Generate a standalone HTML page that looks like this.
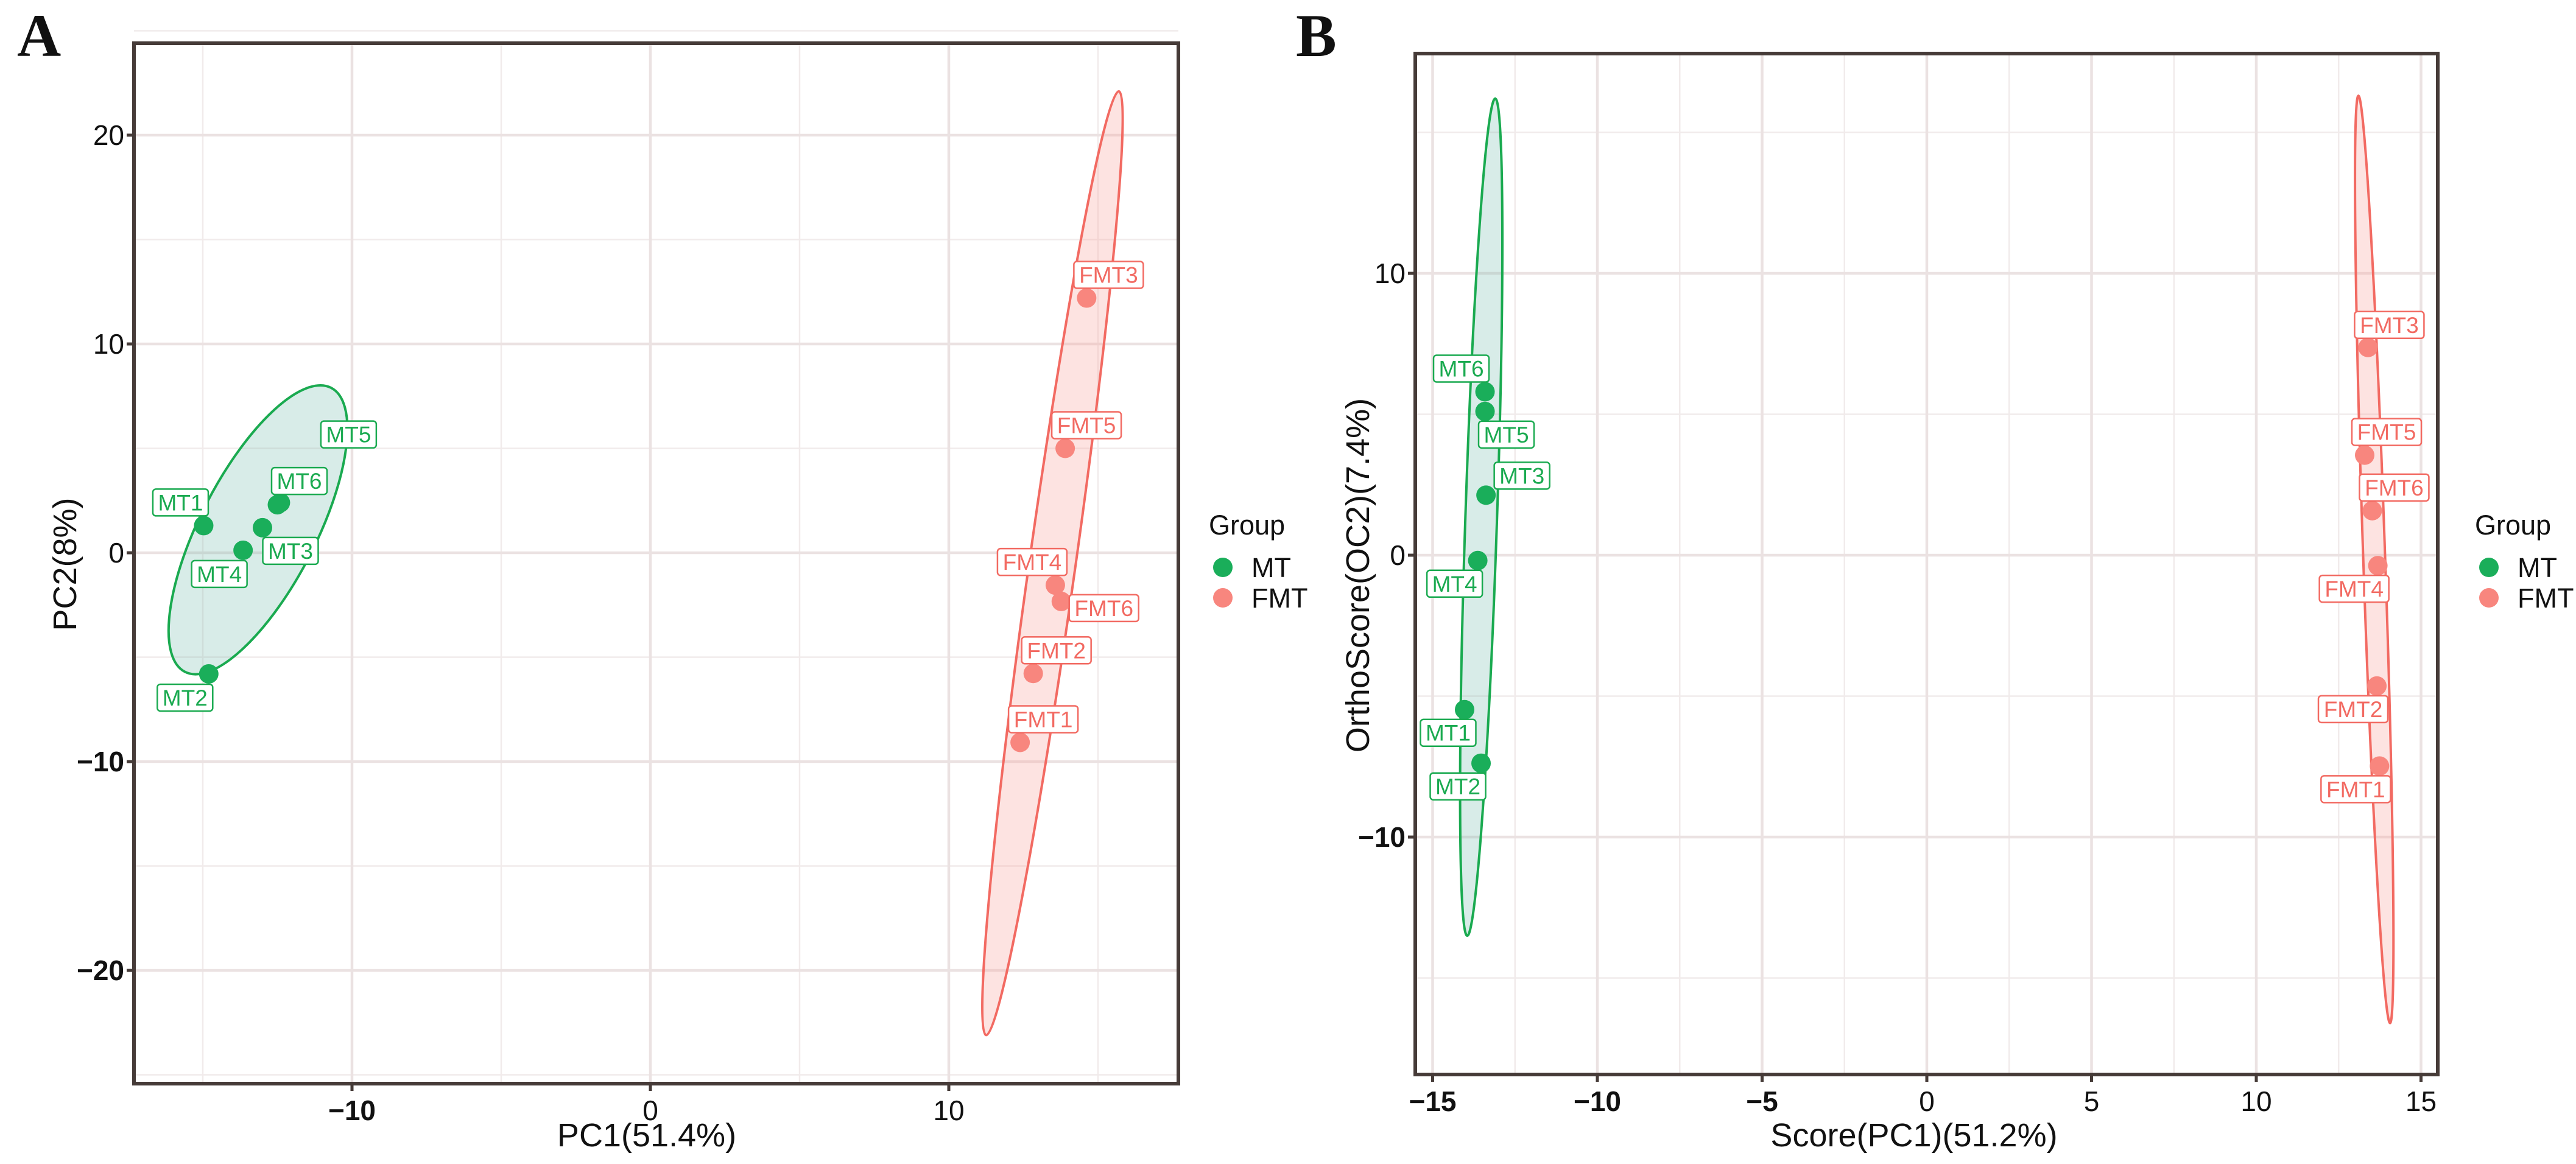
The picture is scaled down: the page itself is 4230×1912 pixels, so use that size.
<!DOCTYPE html>
<html><head><meta charset="utf-8"><style>
html,body{margin:0;padding:0;background:#fff;}
svg{display:block;font-family:"Liberation Sans",sans-serif;}
</style></head><body>
<svg id="fig" width="4230" height="1912" viewBox="0 0 4230 1912"></svg>
<script>
// ---- Panel A data (PCA) ----
const aLabels = ["MT1","MT2","MT3","MT4","MT5","MT6","FMT1","FMT2","FMT3","FMT4","FMT5","FMT6"];
const aGroups = ["MT","MT","MT","MT","MT","MT","FMT","FMT","FMT","FMT","FMT","FMT"];
const aPC1 = [-14.97,-14.8,-13.0,-13.65,-12.4,-12.5,12.39,12.83,14.62,13.57,13.9,13.77];
const aPC2 = [1.3,-5.8,1.2,0.12,2.4,2.3,-9.08,-5.78,12.2,-1.55,5.0,-2.33];
const aXTicks = [-10,0,10];
const aYTicks = [20,10,0,-10,-20];
// ---- Panel B data (OPLS-DA) ----
const bLabels = ["MT1","MT2","MT3","MT4","MT5","MT6","FMT1","FMT2","FMT3","FMT4","FMT5","FMT6"];
const bGroups = ["MT","MT","MT","MT","MT","MT","FMT","FMT","FMT","FMT","FMT","FMT"];
const bScore = [-14.03,-13.53,-13.38,-13.63,-13.41,-13.41,13.74,13.66,13.39,13.69,13.29,13.52];
const bOrtho = [-5.48,-7.38,2.13,-0.19,5.1,5.8,-7.48,-4.64,7.37,-0.37,3.55,1.58];
const bXTicks = [-15,-10,-5,0,5,10,15];
const bYTicks = [10,0,-10];
// ellipse geometry in data units: [x1,y1,x2,y2,minorHalfPx] major-axis tips
const aEllipseMT = [-10.7,7.9,-15.6,-5.7,95];
const aEllipseFMT = [15.7,22.1,11.25,-23.1,38];
const bEllipseMT = [-13.1,16.2,-13.95,-13.5,26];
const bEllipseFMT = [13.1,16.3,14.06,-16.6,18];

// label offsets (px) - layout, not data
const aOff = [[-38,-38],[-39,39],[46,38],[-39,39],[112,-112],[36,-39],[38,-38],[38,-38],[36,-38],[-38,-38],[35,-38],[70,11]];
const bOff = [[-27,38],[-38,38],[59,-32],[-38,38],[35,38],[-39,-38],[-39,38],[-39,38],[35,-37],[-39,38],[36,-38],[36,-38]];

const NS="http://www.w3.org/2000/svg";
const svg=document.getElementById('fig');
function mk(tag,attrs,parent){const e=document.createElementNS(NS,tag);for(const k in attrs)e.setAttribute(k,attrs[k]);(parent||svg).appendChild(e);return e;}
const COL={MT:{pt:"#1aae5a",stroke:"#1aaa50",fill:"rgba(110,185,170,0.27)"},FMT:{pt:"#f8867e",stroke:"#f26a62",fill:"rgba(250,170,165,0.33)"}};

function panel(cfg){
  const g=mk('g',{});
  
  
  const sx=v=>cfg.x0+v*cfg.kx, sy=v=>cfg.y0-v*cfg.ky;
  // grid
  cfg.xMinor.forEach(v=>{const l=mk('line',{x1:sx(v),x2:sx(v),y1:cfg.top,y2:cfg.bottom,stroke:"#f1ebeb","stroke-width":2.5},g);});
  cfg.yMinor.forEach(v=>{const l=mk('line',{x1:cfg.left,x2:cfg.right,y1:sy(v),y2:sy(v),stroke:"#f1ebeb","stroke-width":2.5},g);});
  cfg.xt.forEach(v=>{const l=mk('line',{x1:sx(v),x2:sx(v),y1:cfg.top,y2:cfg.bottom,stroke:"#ebe2e2","stroke-width":4.5},g);});
  cfg.yt.forEach(v=>{const l=mk('line',{x1:cfg.left,x2:cfg.right,y1:sy(v),y2:sy(v),stroke:"#ebe2e2","stroke-width":4.5},g);});
  // ellipses
  [[cfg.eMT,"MT"],[cfg.eFMT,"FMT"]].forEach(([e,grp])=>{
    const x1=sx(e[0]),y1=sy(e[1]),x2=sx(e[2]),y2=sy(e[3]);
    const cx=(x1+x2)/2,cy=(y1+y2)/2,a=Math.hypot(x2-x1,y2-y1)/2,ang=Math.atan2(y2-y1,x2-x1)*180/Math.PI;
    const el=mk('ellipse',{cx:cx,cy:cy,rx:a,ry:e[4],transform:`rotate(${ang} ${cx} ${cy})`,fill:COL[grp].fill,stroke:COL[grp].stroke,"stroke-width":4},g);
    
    
  });
  // points
  cfg.xs.forEach((v,i)=>{
    const c=mk('circle',{cx:sx(v),cy:sy(cfg.ys[i]),r:16,fill:COL[cfg.groups[i]].pt},g);
    
    
  });
  // labels
  cfg.xs.forEach((v,i)=>{
    const grp=cfg.groups[i];const txt=cfg.labels[i];
    const cx=sx(v)+cfg.off[i][0], cy=sy(cfg.ys[i])+cfg.off[i][1];
    const w=txt.length*23+22,h=44;
    const r=mk('rect',{x:cx-w/2,y:cy-h/2,width:w,height:h,rx:5,fill:"#fff",stroke:COL[grp].stroke,"stroke-width":2.5},g);
    
    
    const t=mk('text',{x:cx,y:cy+13,"text-anchor":"middle","font-size":37,fill:COL[grp].stroke},g);
    t.textContent=txt;
    
    
  });
  // border
  const b=mk('rect',{x:cfg.left,y:cfg.top,width:cfg.right-cfg.left,height:cfg.bottom-cfg.top,fill:"none",stroke:"#463b38","stroke-width":6},g);
  
  
  // ticks
  cfg.xt.forEach(v=>{
    const l=mk('line',{x1:sx(v),x2:sx(v),y1:cfg.bottom,y2:cfg.bottom+12,stroke:"#463b38","stroke-width":5},g);
    
    
    const t=mk('text',{x:sx(v),y:cfg.bottom+60,"text-anchor":"middle","font-size":46,fill:"#111","font-weight":v<0?"bold":"normal"},g);
    t.textContent=v<0?"\u2212"+Math.abs(v):String(v);
    
    
  });
  cfg.yt.forEach(v=>{
    const l=mk('line',{x1:cfg.left-12,x2:cfg.left,y1:sy(v),y2:sy(v),stroke:"#463b38","stroke-width":5},g);
    
    
    const t=mk('text',{x:cfg.left-16,y:sy(v)+16,"text-anchor":"end","font-size":46,fill:"#111","font-weight":v<0?"bold":"normal"},g);
    t.textContent=v<0?"\u2212"+Math.abs(v):String(v);
    
    
  });
  // titles
  const xt=mk('text',{x:cfg.xTitleX,y:1883,"text-anchor":"middle","font-size":54,fill:"#111"},g);
  xt.textContent=cfg.xTitle;
  
  
  const yt=mk('text',{x:0,y:0,"text-anchor":"middle","font-size":54,fill:"#111",transform:`translate(${cfg.yTitleX},${cfg.yTitleY}) rotate(-90)`},g);
  yt.textContent=cfg.yTitle;
  
  
  const pl=mk('text',{x:cfg.letterX,y:92,"font-size":100,"font-weight":"bold","font-family":"Liberation Serif,serif",fill:"#111"},g);
  pl.textContent=cfg.letter;
  
  
  // legend
  const lg=mk('g',{},g);
  
  
  const lt=mk('text',{x:cfg.legX,y:878,"font-size":45,fill:"#111"},lg);
  lt.textContent="Group";
  
  
  [["MT",932],["FMT",982]].forEach(([grp,y])=>{
    const c=mk('circle',{cx:cfg.legX+23,cy:y,r:16,fill:COL[grp].pt},lg);
    
    
    const t=mk('text',{x:cfg.legX+70,y:y+16,"font-size":45,fill:"#111"},lg);
    t.textContent=grp;
    
    
  });
}

panel({name:'panel-a-pca',letter:'A',letterX:28,left:220,right:1935,top:71,bottom:1780,
  x0:1068,kx:49,y0:908,ky:34.3,xt:aXTicks,yt:aYTicks,xMinor:[-15,-5,5,15],yMinor:[25,15,5,-5,-15,-25],
  xs:aPC1,ys:aPC2,groups:aGroups,labels:aLabels,off:aOff,eMT:aEllipseMT,eFMT:aEllipseFMT,
  xTitle:"PC1(51.4%)",xTitleX:1062,yTitle:"PC2(8%)",yTitleX:125,yTitleY:927,legX:1985});
panel({name:'panel-b-oplsda',letter:'B',letterX:2128,left:2324,right:4003,top:88,bottom:1765,
  x0:3164,kx:54.1,y0:912,ky:46.3,xt:bXTicks,yt:bYTicks,xMinor:[-12.5,-7.5,-2.5,2.5,7.5,12.5],yMinor:[15,5,-5,-15],
  xs:bScore,ys:bOrtho,groups:bGroups,labels:bLabels,off:bOff,eMT:bEllipseMT,eFMT:bEllipseFMT,
  xTitle:"Score(PC1)(51.2%)",xTitleX:3143,yTitle:"OrthoScore(OC2)(7.4%)",yTitleX:2248,yTitleY:945,legX:4064});
</script>
</body></html>
